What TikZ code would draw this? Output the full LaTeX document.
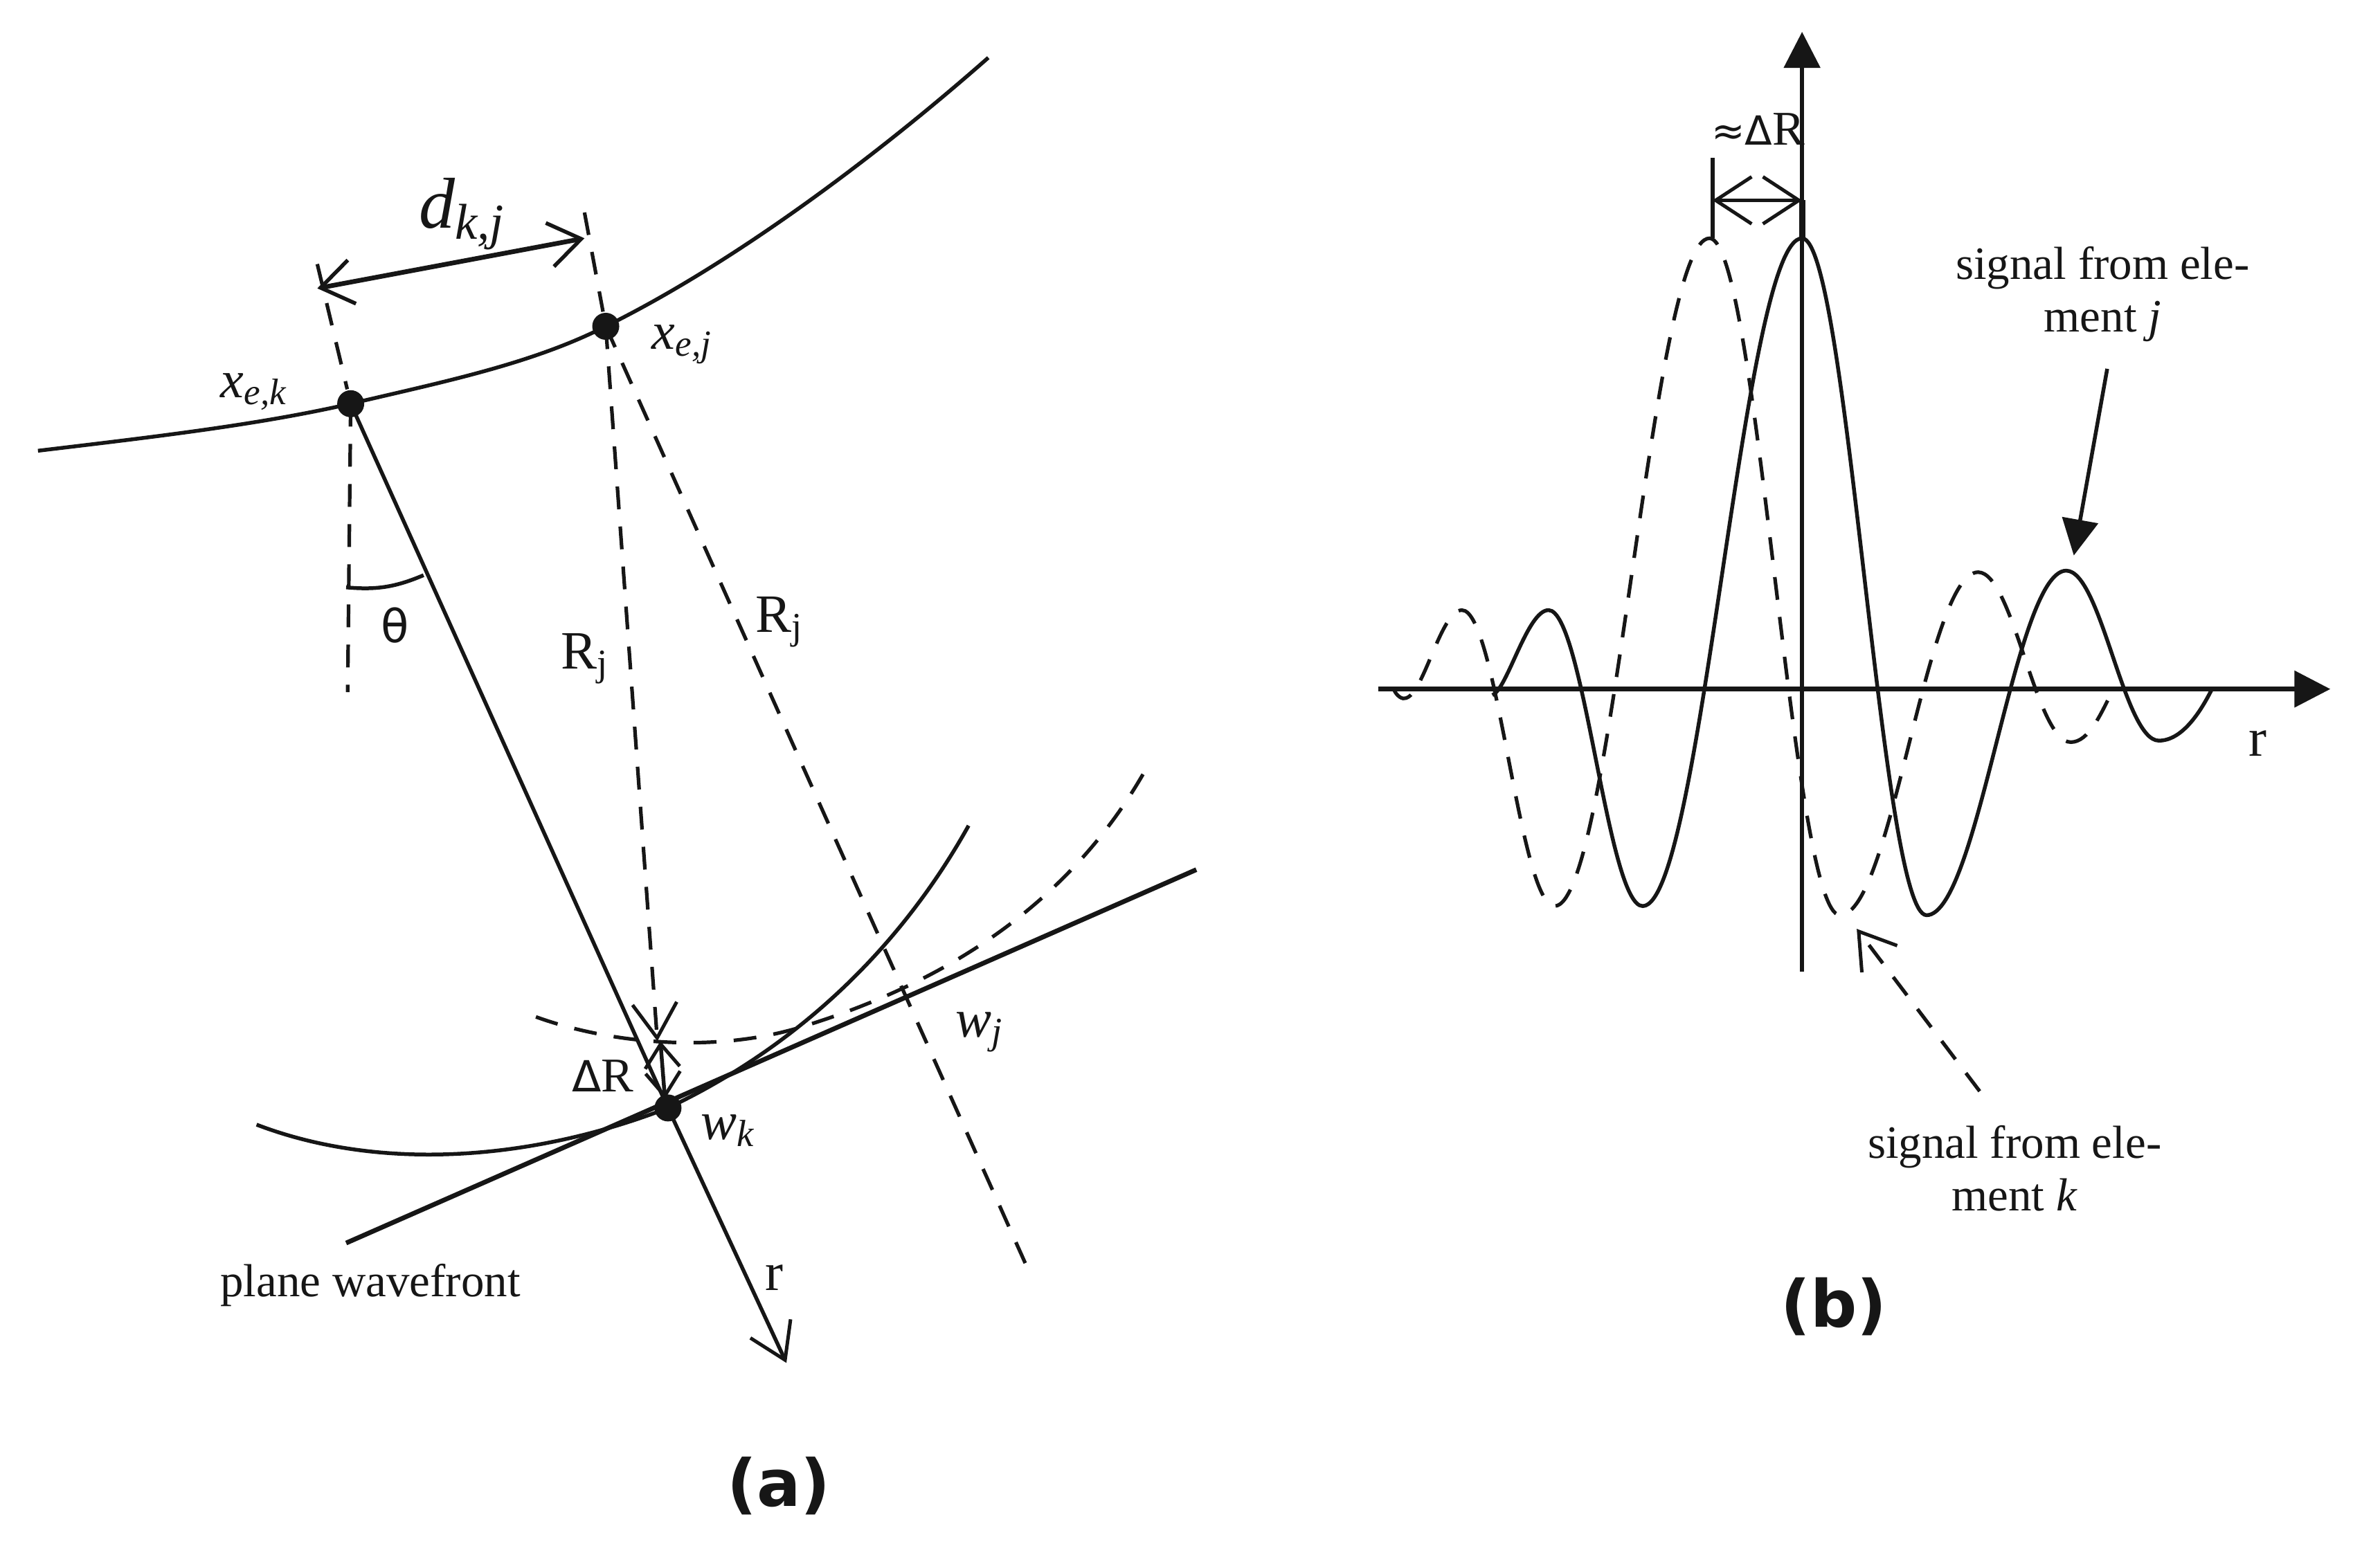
\documentclass[tikz,border=0pt]{standalone}
\usepackage{fontspec}
\setmainfont{Liberation Serif}
\newfontfamily\capfont{DejaVu Sans}
\usetikzlibrary{arrows.meta}
\definecolor{ink}{RGB}{22,22,22}
\tikzset{
  x=0.2193pt,y=-0.2193pt,
  line/.style={draw=ink,line width=0.55pt},
  thickline/.style={draw=ink,line width=0.68pt},
  dash line/.style={draw=ink,line width=0.52pt,dash pattern=on 3.3pt off 2.5pt},
  open/.style={-{Straight Barb[length=5pt,width=6.4pt,line width=0.5pt]}},
  openboth/.style={{Straight Barb[length=3.4pt,width=5pt,line width=0.5pt]}-{Straight Barb[length=3.4pt,width=5pt,line width=0.5pt]}},
  solidhead/.style={-{Triangle[length=5.2pt,width=5.2pt,fill=ink]}},
  dot/.style={circle,fill=ink,inner sep=0pt,minimum size=3.9pt},
  lab/.style={inner sep=0pt,text=ink,font=\fontsize{6.7}{7.6}\selectfont,align=center},
  midlab/.style={lab,font=\fontsize{7.8}{9}\selectfont},
  caplab/.style={inner sep=0pt,text=ink,font=\capfont\bfseries\fontsize{9.4}{11}\selectfont},
}
\begin{document}
\begin{tikzpicture}
\useasboundingbox (0,0) rectangle (1567.7,1022.8);
% --- part (a)
\node[dot] (xk) at (231,266) {};
\node[dot] (xj) at (399,215) {};
\node[dot] (wk) at (440,730) {};
\coordinate (topL) at (209,174);
\coordinate (topR) at (385,140);
\coordinate (dL) at (209,190);
\coordinate (dR) at (385,157);
\coordinate (vEnd) at (229,456);
\coordinate (rjTip) at (433,686);
\coordinate (rjEnd) at (677,836);
\coordinate (drTop) at (435,686);
\coordinate (drBot) at (438,724);
\coordinate (rTip) at (518,898);
\coordinate (pL) at (228,819);
\coordinate (pR) at (788,573);
\draw[line] (25,297) .. controls (100,288) and (170,280) .. (xk.center) .. controls (290,252) and (350,240) .. (xj.center) .. controls (470,180) and (560,118) .. (651,38);
\draw[dash line] (topL) -- (xk);
\draw[dash line] (topR) -- (xj);
\draw[thickline,<->,>={Straight Barb[length=4.6pt,width=6.4pt,line width=0.55pt]}] (dL) -- (dR);
\draw[dash line] (xk.center) -- (vEnd);
\draw[line] (xk.center) -- (wk.center);
\draw[line] (228,387) to[bend right=14] (279,379);
\draw[dash line,open] (xj.center) -- (rjTip);
\draw[dash line] (xj.center) -- (rjEnd);
\draw[line] (169,741) .. controls (250,772) and (350,765) .. (wk.center) .. controls (520,692) and (590,630) .. (638,544);
\draw[dash line] (353,670) .. controls (400,687) and (470,695) .. (530,676) .. controls (630,645) and (710,590) .. (758,501);
\draw[thickline] (pL) -- (pR);
\draw[line,openboth] (drTop) -- (drBot);
\draw[line,open] (wk.center) -- (rTip);
\node[lab,font=\itshape\fontsize{7.6}{9}\selectfont] (lxk) at (168,258) {x\textsubscript{e,k}};
\node[lab,font=\itshape\fontsize{7.6}{9}\selectfont] (lxj) at (450,227) {x\textsubscript{e,j}};
\node[lab,font=\itshape\fontsize{10.4}{12}\selectfont] (ldkj) at (305,141) {d\textsubscript{k,j}};
\node[midlab] (ltheta) at (260,412) {\capfont\fontsize{6.6}{8}\selectfont θ};
\node[midlab] (lr1) at (386,434) {R\textsubscript{j}};
\node[midlab] (lr2) at (514,410) {R\textsubscript{j}};
\node[lab,font=\fontsize{7}{8}\selectfont] (ldr) at (397,709) {{\capfont\fontsize{6.2}{8}\selectfont Δ}R};
\node[lab,font=\itshape\fontsize{7.8}{9}\selectfont] (lwj) at (646,680) {w\textsubscript{j}};
\node[lab,font=\itshape\fontsize{7.8}{9}\selectfont] (lwk) at (480,745) {w\textsubscript{k}};
\node[lab,font=\fontsize{7.8}{9}\selectfont] (lr) at (510,842) {r};
\node[lab] (lpw) at (244,847) {plane wavefront};
\node[caplab] (capa) at (513,979) {(a)};
% --- part (b)
\coordinate (xL) at (908,454);
\coordinate (xR) at (1535,454);
\coordinate (yB) at (1187,640);
\coordinate (yT) at (1187,21);
\coordinate (tick) at (1128,104);
\coordinate (tickB) at (1128,157);
\coordinate (ah) at (1128,132);
\coordinate (ahR) at (1187,132);
\coordinate (pk) at (1187,157);
\coordinate (jS) at (1388,243);
\coordinate (jT) at (1366,366);
\coordinate (kS) at (1304,719);
\coordinate (kT) at (1223,612);
\draw[thickline,solidhead] (xL) -- (xR);
\draw[line,solidhead] (yB) -- (yT);
\draw[line] (tick) -- (tickB);
\draw[line,<->,>={Straight Barb[length=5.2pt,width=6.8pt,line width=0.5pt]}] (ah) -- (ahR);
\draw[line,line width=0.9pt] (ahR) -- (pk);
\draw[line] (983,458)
 .. controls +(10,-4) and +(-14,0) .. (1020,402)
 .. controls +(23,0) and +(-23,0) .. (1082,597)
 .. controls +(39,0) and +(-39,0) .. (1187,157)
 .. controls +(30,0) and +(-30,0) .. (1269,603)
 .. controls +(34,0) and +(-34,0) .. (1361,376)
 .. controls +(23,0) and +(-23,0) .. (1422,488)
 .. controls +(15,0) and +(-8,16) .. (1457,454);
\draw[dash line] (918,454) .. controls (920,459) and (924,461) .. (926,460)
 .. controls +(12,-3) and +(-14,0) .. (963,402)
 .. controls +(23,0) and +(-23,0) .. (1024,597)
 .. controls +(38,0) and +(-38,0) .. (1126,157)
 .. controls +(32,0) and +(-32,0) .. (1212,603)
 .. controls +(34,0) and +(-34,0) .. (1303,377)
 .. controls +(23,0) and +(-23,0) .. (1364,489)
 .. controls +(12,0) and +(-8,16) .. (1392,454);
\draw[line,solidhead] (jS) -- (jT);
\draw[dash line,open] (kS) -- (kT);
\node[lab,font=\fontsize{7}{9}\selectfont] (lar) at (1158,85) {{\capfont\fontsize{5.8}{8}\selectfont ≈Δ}R};
\node[lab] (lsj) at (1385,194) {signal from ele-\\ment \textit{j}};
\node[lab] (lsk) at (1327,770) {signal from ele-\\ment \textit{k}};
\node[lab,font=\fontsize{7.8}{9}\selectfont] (lrb) at (1487,490) {r};
\node[caplab] (capb) at (1208,861) {(b)};
\end{tikzpicture}
\end{document}
